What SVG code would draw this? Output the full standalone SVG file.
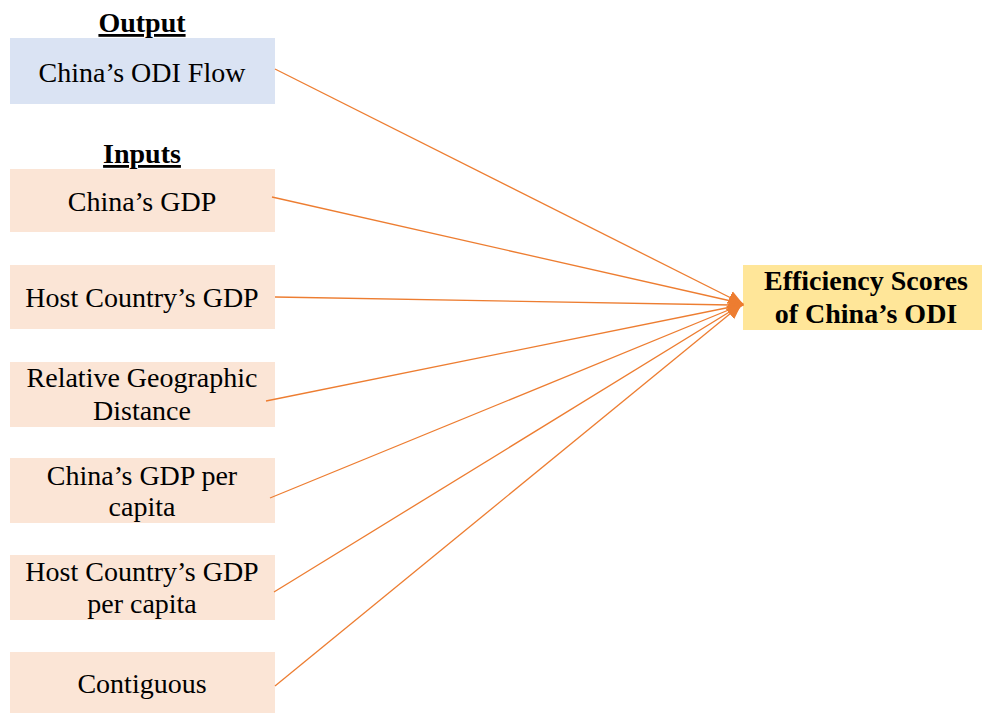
<svg xmlns="http://www.w3.org/2000/svg" width="982" height="714" viewBox="0 0 982 714">
<defs>
<style>
text{font-family:"Liberation Serif","Times New Roman",serif;font-size:28px;fill:#000;text-anchor:middle}
.h{font-weight:bold;text-decoration:underline}
.b{font-weight:bold}
.in{fill:#FBE5D6}
.out{fill:#DAE3F3}
.tg{fill:#FFE699}
.c line{stroke:#ED7D31;stroke-width:1.3;marker-end:url(#ah)}
</style>
<marker id="ah" viewBox="0 0 10 10" refX="1" refY="5" markerWidth="15" markerHeight="15" markerUnits="userSpaceOnUse" orient="auto">
<path d="M0,0.5 L10,5 L0,9.5 z" fill="#ED7D31"/>
</marker>
</defs>
<rect width="982" height="714" fill="#fff"/>
<text class="h" x="142" y="32">Output</text>
<text class="h" x="142" y="163">Inputs</text>
<g id="odi-flow"><rect class="out" x="10" y="38" width="265" height="66"/><text x="142" y="82">China’s ODI Flow</text></g>
<g id="china-gdp"><rect class="in" x="10" y="169" width="265" height="63"/><text x="142" y="211">China’s GDP</text></g>
<g id="host-gdp"><rect class="in" x="10" y="265" width="265" height="64"/><text x="142" y="307">Host Country’s GDP</text></g>
<g id="distance"><rect class="in" x="10" y="362" width="265" height="65"/><text x="142" y="387">Relative Geographic</text><text x="142" y="420">Distance</text></g>
<g id="china-gdppc"><rect class="in" x="10" y="458" width="265" height="65"/><text x="142" y="485">China’s GDP per</text><text x="142" y="516">capita</text></g>
<g id="host-gdppc"><rect class="in" x="10" y="555" width="265" height="65"/><text x="142" y="581">Host Country’s GDP</text><text x="142" y="613">per capita</text></g>
<g id="contiguous"><rect class="in" x="10" y="652" width="265" height="61"/><text x="142" y="693">Contiguous</text></g>
<g id="efficiency"><rect class="tg" x="743" y="265" width="239" height="65"/><text class="b" x="866" y="290">Efficiency Scores</text><text class="b" x="866" y="323">of China’s ODI</text></g>
<g class="c" id="connectors">
<line x1="275" y1="69" x2="731" y2="298"/>
<line x1="272" y1="197" x2="731" y2="301"/>
<line x1="275" y1="297" x2="731" y2="305"/>
<line x1="266" y1="401" x2="731" y2="307"/>
<line x1="270" y1="498" x2="731" y2="309"/>
<line x1="274" y1="592" x2="731" y2="311"/>
<line x1="275" y1="686" x2="731" y2="313"/>
</g>
</svg>
